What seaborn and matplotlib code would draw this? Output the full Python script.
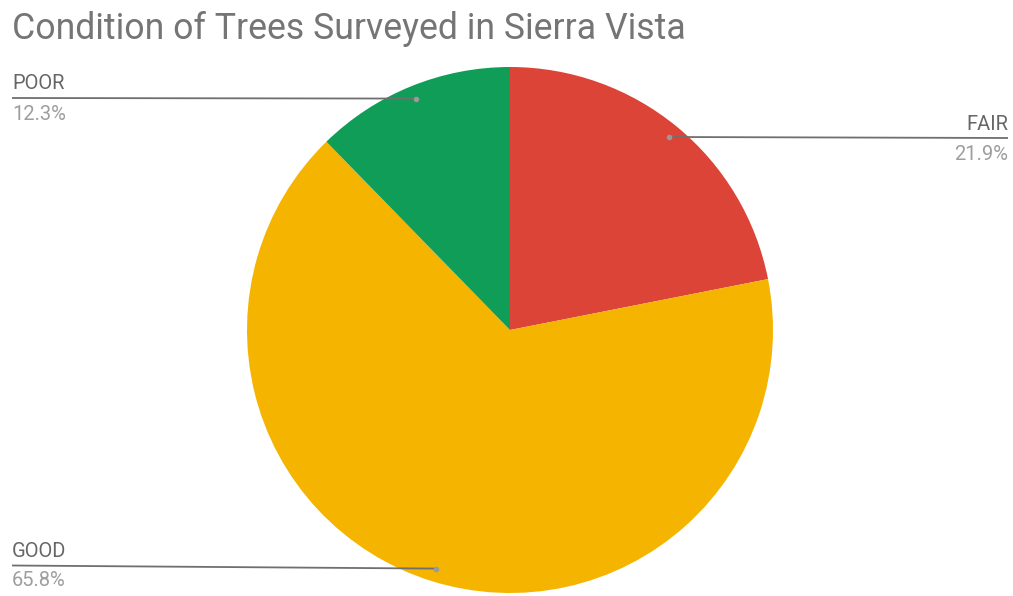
import matplotlib
matplotlib.use("Agg")
import matplotlib.pyplot as plt
import numpy as np
import seaborn as sns

# Tree condition survey shares (percent)
conditions = ["FAIR", "GOOD", "POOR"]
shares = [21.9, 65.8, 12.3]
pct_labels = ["21.9%", "65.8%", "12.3%"]
slice_colors = ["#DB4437", "#F4B400", "#0F9D58"]
title = "Condition of Trees Surveyed in Sierra Vista"

sns.set_theme(style="white")
plt.rcParams["font.family"] = ["Roboto", "DejaVu Sans"]

W, H = 1013, 596
fig = plt.figure(figsize=(W / 100, H / 100), dpi=100)
ax = fig.add_axes([0, 0, 1, 1])

cx, cy, R = 510, H - 330, 263
palette = sns.color_palette(slice_colors)
wedges, _ = ax.pie(shares, colors=palette, startangle=90, counterclock=False,
                   center=(cx, cy), radius=R, frame=True,
                   wedgeprops=dict(linewidth=0))
ax.set_xlim(0, W)
ax.set_ylim(0, H)
ax.set_aspect("equal")
ax.axis("off")

fig.text(12 / W, 1 - 39 / H, title, fontsize=25.7, color="#757575",
         ha="left", va="baseline")

line_col = "#6f6f6f"
name_col = "#666666"
pct_col = "#9e9e9e"

# leader layout per slice: (text x, text align, line y at text side, name baseline, pct baseline)
layout = {
    "FAIR": (1008, "right", 138, 129.5, 160),
    "GOOD": (12, "left", 565.5, 557, 585.5),
    "POOR": (12, "left", 98, 89, 120),
}

for w, name, pct in zip(wedges, conditions, pct_labels):
    mid = np.deg2rad((w.theta1 + w.theta2) / 2)
    px = cx + 0.95 * R * np.cos(mid)
    py = cy + 0.95 * R * np.sin(mid)
    tx, ha, ly, nb, pb = layout[name]
    ax.plot([tx, px], [H - ly, py], color=line_col, lw=1.3,
            solid_capstyle="butt", zorder=3)
    ax.plot([px], [py], "o", color="#9a9a9a", ms=4, mec="none", zorder=4)
    ax.text(tx, H - nb, name, fontsize=14.5, color=name_col, ha=ha, va="baseline")
    ax.text(tx, H - pb, pct, fontsize=14.5, color=pct_col, ha=ha, va="baseline")

fig.savefig("out.png", dpi=100, facecolor="white")
